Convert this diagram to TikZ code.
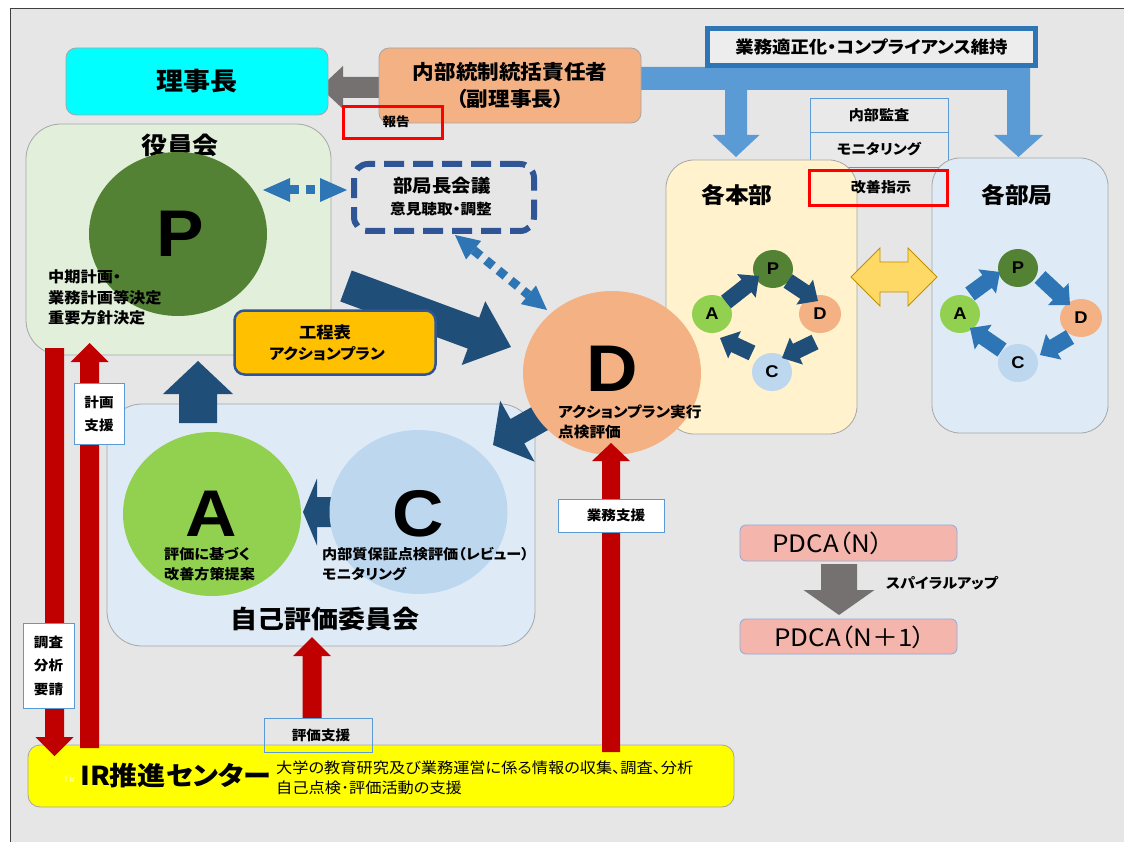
\documentclass[tikz,border=0pt]{standalone}
\usepackage{fontspec}
\setmainfont{Noto Sans CJK JP}[FakeStretch=1.08,RawFeature=+palt]
\newfontfamily\lat{Liberation Sans}[FakeStretch=1.08]
\usetikzlibrary{shapes.geometric}
\newcommand{\fsz}[2]{\fontsize{#1}{#2}\selectfont}
\definecolor{bggray}{HTML}{E6E6E6}
\definecolor{framec}{HTML}{404040}
\definecolor{boxgray}{HTML}{A6A6A6}
\definecolor{cyanc}{HTML}{00FFFF}
\definecolor{orangec}{HTML}{F4B183}
\definecolor{lblue}{HTML}{5B9BD5}
\definecolor{fblue}{HTML}{2E75B6}
\definecolor{dblue}{HTML}{1F4E79}
\definecolor{mblue}{HTML}{2E75B6}
\definecolor{dashc}{HTML}{2F5597}
\definecolor{goldc}{HTML}{FFC000}
\definecolor{pgreen}{HTML}{548235}
\definecolor{agreen}{HTML}{92D050}
\definecolor{cblue}{HTML}{BDD7EE}
\definecolor{lgreen}{HTML}{E2EFDA}
\definecolor{lbluebg}{HTML}{DEEBF7}
\definecolor{lyellow}{HTML}{FFF2CC}
\definecolor{redc}{HTML}{C00000}
\definecolor{brightred}{HTML}{FF0000}
\definecolor{irc}{HTML}{FFFF00}
\definecolor{pdcac}{HTML}{F4B5AC}
\definecolor{pdcab}{HTML}{8FAADC}
\definecolor{garrow}{HTML}{767171}
\definecolor{yarrow}{HTML}{FFD966}
\definecolor{yborder}{HTML}{BF9000}
\definecolor{stackf}{HTML}{E9E9E9}
\definecolor{gboxf}{HTML}{EDEDED}
% block arrow: #1 colour, (#2,#3) tail, (#4,#5) tip, #6 shaft half width, #7 head half width, #8 head length
\newcommand{\blkarrow}[8]{%
  \pgfmathsetmacro\baAng{-atan2((#5)-(#3),(#4)-(#2))}%
  \pgfmathsetmacro\baLen{veclen((#4)-(#2),(#5)-(#3))}%
  \pgfmathsetmacro\baBase{\baLen-(#8)}%
  \begin{scope}[shift={(#2,#3)},rotate=\baAng]
    \fill[#1] (0,-#6) -- (\baBase,-#6) -- (\baBase,-#7) -- (\baLen,0) -- (\baBase,#7) -- (\baBase,#6) -- (0,#6) -- cycle;
  \end{scope}}
% dotted double arrow: #1 colour, (#2,#3), (#4,#5), #6 head length, #7 head half width
\newcommand{\dotarrow}[7]{%
  \pgfmathsetmacro\daAng{-atan2((#5)-(#3),(#4)-(#2))}%
  \pgfmathsetmacro\daLen{veclen((#4)-(#2),(#5)-(#3))}%
  \pgfmathsetmacro\daBase{\daLen-(#6)}%
  \begin{scope}[shift={(#2,#3)},rotate=\daAng]
    \fill[#1] (0,0) -- (#6,-#7) -- (#6,#7) -- cycle;
    \fill[#1] (\daLen,0) -- (\daBase,-#7) -- (\daBase,#7) -- cycle;
    \draw[#1, line width=9pt, dash pattern=on 9pt off 7pt] (#6,0) -- (\daBase,0);
  \end{scope}}
\begin{document}
\begin{tikzpicture}[x=1pt,y=-1pt,
  rbox/.style={draw=boxgray, line width=0.8pt, rounded corners=#1, inner sep=0pt},
  rbox/.default=10pt,
  lbl/.style={draw=lblue, line width=0.8pt, fill=white, inner sep=0pt},
  stk/.style={draw=lblue, line width=0.8pt, fill=stackf, inner sep=0pt},
  txt/.style={inner sep=0pt, font=\bfseries\fsz{#1}{#1}},
  txt/.default=14,
  big/.style={inner sep=0pt, font=\lat\bfseries\fsz{66}{66}},
  sc/.style={ellipse, minimum width=40pt, minimum height=38pt, inner sep=0pt, font=\lat\bfseries\fsz{17}{17}},
  bigc/.style={ellipse, minimum width=178pt, minimum height=164pt, inner sep=0pt}
]
\useasboundingbox (0,0) rectangle (1124,842);
\fill[white] (0,0) rectangle (1124,842);
\fill[bggray] (10,9) rectangle (1124,842);
\draw[framec, line width=1pt] (10,842) -- (10,9) -- (1124,9);

% compliance arrows
\fill[lblue] (630,67) -- (1030,67) -- (1030,135) -- (1043,135) -- (1018.5,157) -- (994,135) -- (1007,135) -- (1007,90) -- (747,90) -- (747,135) -- (759.5,135) -- (736,157) -- (712.5,135) -- (725,135) -- (725,90) -- (630,90) -- cycle;
\node[draw=fblue, line width=5pt, fill=gboxf, minimum width=328pt, minimum height=37pt, inner sep=0pt, font=\bfseries\fsz{17}{17}] (gyomu) at (871.5,47) {業務適正化・コンプライアンス維持};

% top left
\blkarrow{garrow}{385}{87.5}{320}{87.5}{10.5}{21.5}{23}
\node[rbox=10pt, fill=cyanc, minimum width=262pt, minimum height=67pt, font=\bfseries\fsz{25}{25}] (rijicho) at (197,81.5) {理事長};
\node[rbox=10pt, fill=orangec, minimum width=262pt, minimum height=75pt, align=center, font=\bfseries\fsz{20}{27}] (naibu) at (510,85.5) {内部統制統括責任者\\（副理事長）};
\node[draw=brightred, line width=3.5pt, minimum width=99pt, minimum height=32pt, inner sep=0pt] (hokoku) at (393,122.5) {};
\node[txt=12.5] (hokokut) at (396,122) {報告};

% audit stack
\node[stk, minimum width=138pt, minimum height=34pt, font=\bfseries\fsz{14}{14}] (kansa) at (879,115) {内部監査};
\node[stk, minimum width=138pt, minimum height=35pt, font=\bfseries\fsz{14}{14}] (monit) at (879,149.5) {モニタリング};

% honbu / bukyoku
\node[rbox=28pt, fill=lyellow, minimum width=191pt, minimum height=274pt] (honbu) at (761.5,297) {};
\node[rbox=28pt, fill=lbluebg, minimum width=176pt, minimum height=275pt] (bukyo) at (1020,295.5) {};
\node[txt=22] (honbut) at (737,195) {各本部};
\node[txt=22] (bukyot) at (1017,195) {各部局};
\node[draw=brightred, line width=3.5pt, minimum width=138pt, minimum height=35pt, inner sep=0pt] (kaizen) at (878.5,188) {};
\node[txt=14] (kaizent) at (881,187) {改善指示};

% yakuin
\node[rbox=35pt, fill=lgreen, minimum width=305pt, minimum height=231pt] (yakuin) at (178.5,239.5) {};
\node[txt=24] (yakuint) at (180,145) {役員会};
\node[bigc, fill=pgreen] (P) at (178,234) {};
\node[big, anchor=base] (Pl) at (180,257) {P};
\node[inner sep=0pt, anchor=west, align=left, font=\bfseries\fsz{15}{20.5}] (Pt) at (48,297.5) {中期計画・\\業務計画等決定\\重要方針決定};

% jiko hyoka
\node[rbox=35pt, fill=lbluebg, minimum width=428pt, minimum height=242pt] (jiko) at (321,525) {};
\node[txt=25] (jikot) at (325,619) {自己評価委員会};
\blkarrow{dblue}{198}{423}{198}{361}{19}{35}{33}

% P -> D
\blkarrow{dblue}{346}{286}{511}{347}{16.5}{34}{40}
\node[draw=dashc, line width=2.5pt, fill=goldc, rounded corners=10pt, minimum width=201pt, minimum height=64pt, inner sep=0pt] (koutei) at (335,342.5) {};
\node[txt=16] (kouteit1) at (325,332) {工程表};
\node[txt=15] (kouteit2) at (327,354) {アクションプラン};

% bukyokucho
\dotarrow{mblue}{263}{190}{347}{190}{27}{12}
\dotarrow{mblue}{455}{235}{547}{310}{24}{12}
\node[draw=dashc, line width=6pt, dash pattern=on 20pt off 9pt, rounded corners=14pt, minimum width=180pt, minimum height=67pt, inner sep=0pt] (bkc) at (444,197.5) {};
\node[txt=18] (bkct1) at (442,186) {部局長会議};
\node[txt=14.5] (bkct2) at (441,209) {意見聴取・調整};

% D
\blkarrow{dblue}{569}{402}{493}{445}{14}{35}{28}
\node[bigc, fill=orangec] (D) at (612,373) {};
\node[big, anchor=base] (Dl) at (612,391) {D};
\node[inner sep=0pt, anchor=west, align=left, font=\bfseries\fsz{14.5}{20}] (Dt) at (558,422) {アクションプラン実行\\点検評価};

% A, C
\node[bigc, fill=agreen] (A) at (212,514) {};
\blkarrow{dblue}{331}{512}{303}{512}{15}{33.5}{14}
\node[bigc, fill=cblue] (C) at (418.5,512) {};
\node[big, anchor=base] (Al) at (211,536) {A};
\node[big, anchor=base] (Cl) at (418,536) {C};
\node[inner sep=0pt, anchor=west, align=left, font=\bfseries\fsz{14}{20}] (At) at (164,564) {評価に基づく\\改善方策提案};
\node[inner sep=0pt, anchor=west, align=left, font=\bfseries\fsz{14}{20}] (Ct) at (322,564) {内部質保証点検評価（レビュー）\\モニタリング};

% small cycles
\node[sc, fill=pgreen] (hP) at (773,269) {P};
\node[sc, fill=agreen] (hA) at (712,314) {A};
\node[sc, fill=orangec, minimum width=42pt] (hD) at (820,314) {D};
\node[sc, fill=cblue] (hC) at (772,372) {C};
\blkarrow{dblue}{726}{302}{759}{276}{8}{15}{16}
\blkarrow{dblue}{788}{281}{818}{301}{8}{15}{16}
\blkarrow{dblue}{815}{342}{782}{358}{8}{15}{16}
\blkarrow{dblue}{752}{353}{720}{338}{8}{15}{16}
\node[sc, fill=pgreen] (bP) at (1018,268) {P};
\node[sc, fill=agreen] (bA) at (960,314) {A};
\node[sc, fill=orangec, minimum width=42pt] (bD) at (1081,318) {D};
\node[sc, fill=cblue] (bC) at (1018,363) {C};
\blkarrow{mblue}{970}{294}{1000}{272}{8}{15}{16}
\blkarrow{mblue}{1040}{277}{1070}{305}{8}{15}{16}
\blkarrow{mblue}{1070}{337}{1040}{355}{8}{15}{16}
\blkarrow{mblue}{1002}{350}{970}{328}{8}{15}{16}
\filldraw[fill=yarrow, draw=yborder, line width=0.8pt] (851,277) -- (880,248) -- (880,262) -- (908,262) -- (908,248) -- (937,277) -- (908,306) -- (908,292) -- (880,292) -- (880,306) -- cycle;

% IR centre and support arrows
\node[rbox=12pt, fill=irc, minimum width=706pt, minimum height=62pt] (ir) at (381,776) {};
\blkarrow{redc}{54.5}{348}{54.5}{756}{9.5}{19}{19}
\blkarrow{redc}{89.5}{748}{89.5}{343}{9.5}{19}{19}
\blkarrow{redc}{312}{718}{312}{637}{9.5}{19}{19}
\blkarrow{redc}{611}{752}{611}{443}{9}{19}{18}
\node[lbl, minimum width=50pt, minimum height=61pt, align=center, font=\bfseries\fsz{13.5}{23}] (keikaku) at (99,413.5) {計画\\支援};
\node[lbl, minimum width=51pt, minimum height=85pt, align=center, font=\bfseries\fsz{13.5}{23.5}] (chosa) at (48.5,665.5) {調査\\分析\\要請};
\node[draw=lblue, line width=0.8pt, minimum width=108pt, minimum height=34pt, inner sep=0pt] (hyoka) at (318,735) {};
\node[txt=13.5] (hyokat) at (321,735) {評価支援};
\node[lbl, minimum width=106pt, minimum height=33pt] (gshien) at (611,515.5) {};
\node[txt=13.5] (gshient) at (616,515) {業務支援};
\node[inner sep=0pt, text=white, font=\lat\fsz{9}{9}] (irsmall) at (70,779) {I ir};
\node[inner sep=0pt, anchor=west, font=\bfseries\fsz{26}{26}] (irt) at (80,776) {IR推進センター};
\node[inner sep=0pt, anchor=west, align=left, font=\fsz{15}{20}] (irdesc) at (276,778) {大学の教育研究及び業務運営に係る情報の収集、調査、分析\\自己点検･評価活動の支援};

% PDCA spiral
\node[rbox=6pt, draw=pdcab, fill=pdcac, minimum width=217pt, minimum height=36pt] (pn) at (848.5,543) {};
\node[inner sep=0pt, font=\fsz{24}{24}] (pnt) at (828,543) {PDCA（N）};
\blkarrow{garrow}{839}{564}{839}{615}{18}{35.5}{25}
\node[rbox=6pt, draw=pdcab, fill=pdcac, minimum width=217pt, minimum height=35pt] (pn1) at (848.5,636.5) {};
\node[inner sep=0pt, font=\fsz{24}{24}] (pn1t) at (850,637) {PDCA（N＋1）};
\node[txt=14] (spiral) at (942,583) {スパイラルアップ};
\end{tikzpicture}
\end{document}
